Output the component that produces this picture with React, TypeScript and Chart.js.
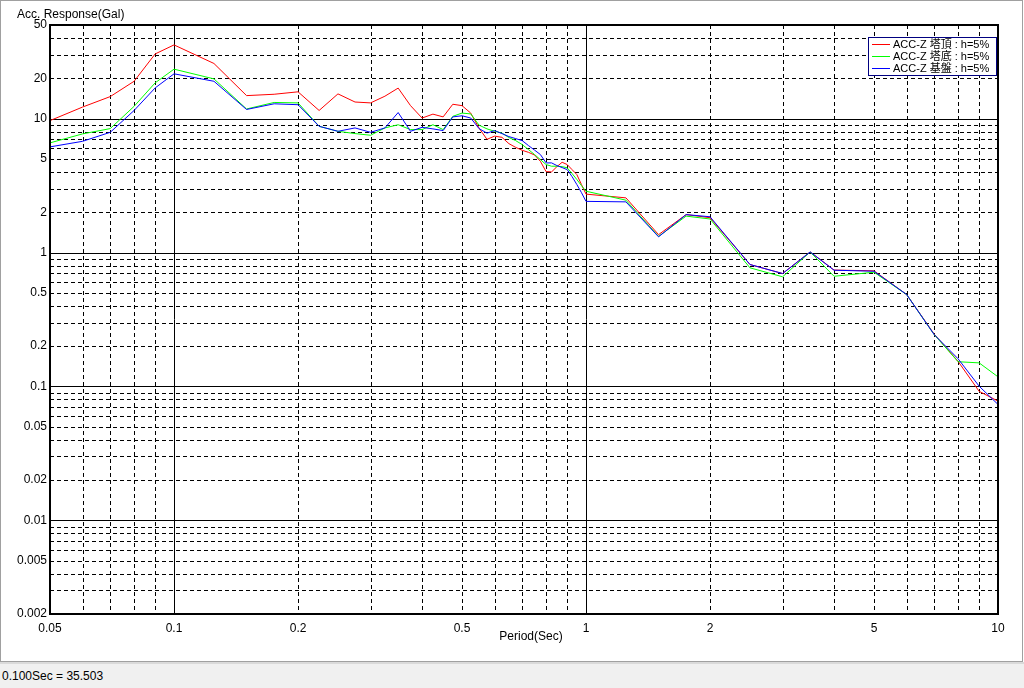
import React, { useEffect, useRef } from 'react';
import { Chart, registerables } from 'chart.js';

Chart.register(...registerables);

// ---- data ----
const periods = [
  0.05, 0.06, 0.07, 0.08, 0.09, 0.1, 0.125, 0.15, 0.175, 0.2,
  0.225, 0.25, 0.275, 0.3, 0.325, 0.35, 0.375, 0.4, 0.425, 0.45, 0.475, 0.5,
  0.525, 0.55, 0.575, 0.6, 0.625, 0.65, 0.675, 0.7, 0.725, 0.75, 0.775, 0.8, 0.825, 0.85, 0.875, 0.9, 0.925, 0.95, 0.975, 1.0,
  1.25, 1.5, 1.75, 2.0,
  2.5, 3.0, 3.5, 4.0,
  5.0, 6.0, 7.0, 8.0, 9.0, 10.0,
];

const towerTop = [
  9.66, 12.2, 14.6, 19.0, 30.4, 35.5, 25.8, 14.85, 15.2, 15.85,
  11.5, 15.3, 13.3, 13.1, 14.7, 16.9, 12.5, 10.1, 10.8, 10.3, 12.8, 12.5,
  11.0, 8.5, 7.0, 7.4, 7.25, 6.5, 6.1, 5.8, 5.6, 5.35, 4.8, 4.02, 4.0, 4.38, 4.72, 4.54, 4.16, 3.82, 3.22, 2.73,
  2.56, 1.36, 1.92, 1.82,
  0.814, 0.697, 1.01, 0.74,
  0.73, 0.486, 0.246, 0.154, 0.092, 0.0777,
];

const towerBase = [
  6.59, 7.69, 8.42, 12.35, 18.5, 23.4, 19.8, 11.8, 13.2, 13.1,
  8.76, 8.04, 7.73, 7.51, 8.52, 9.0, 8.28, 8.28, 9.0, 8.28, 10.4, 11.0,
  10.84, 8.94, 8.38, 8.04, 7.8, 7.22, 6.85, 6.4, 5.87, 5.39, 4.94, 4.54, 4.41, 4.41, 4.38, 4.29, 3.89, 3.51, 3.16, 2.87,
  2.46, 1.32, 1.87, 1.78,
  0.769, 0.659, 1.01, 0.665,
  0.713, 0.486, 0.244, 0.153, 0.15, 0.118,
];

const bedrock = [
  6.15, 6.77, 7.9, 11.5, 16.95, 21.6, 19.0, 11.7, 12.9, 12.7,
  8.76, 8.04, 8.52, 7.9, 8.52, 11.1, 8.04, 8.61, 8.38, 8.14, 10.3, 10.5,
  10.1, 8.42, 7.79, 8.14, 7.73, 7.34, 7.09, 6.85, 6.29, 5.82, 5.39, 4.67, 4.67, 4.46, 4.31, 4.16, 3.69, 3.22, 2.8, 2.41,
  2.39, 1.31, 1.92, 1.85,
  0.814, 0.697, 1.01, 0.738,
  0.725, 0.486, 0.244, 0.161, 0.1005, 0.0734,
];

const seriesLabels = ['ACC-Z 塔頂 : h=5%', 'ACC-Z 塔底 : h=5%', 'ACC-Z 基盤 : h=5%'];
const seriesColors = ['#ff0000', '#00ff00', '#0000ff'];

const xTickLabels = [0.05, 0.1, 0.2, 0.5, 1, 2, 5, 10];
const yTickLabels = [50, 20, 10, 5, 2, 1, 0.5, 0.2, 0.1, 0.05, 0.02, 0.01, 0.005, 0.002];
const gridMantissas = [1, 2, 3, 4, 5, 6, 7, 8, 9];

const xMin = 0.05;
const xMax = 10;
const yMin = 0.002;
const yMax = 50;

const yTitle = 'Acc. Response(Gal)';
const xTitle = 'Period(Sec)';
const statusText = '0.100Sec = 35.503';

const FONT = "'Liberation Sans', Arial, sans-serif";
const LEGEND_FONT = "11px 'Liberation Sans', 'Noto Sans CJK JP', sans-serif";

function gridValues(min: number, max: number): { v: number; major: boolean }[] {
  const out: { v: number; major: boolean }[] = [];
  for (let e = -4; e <= 2; e++) {
    for (const m of gridMantissas) {
      const v = parseFloat((m * Math.pow(10, e)).toPrecision(6));
      if (v > min * 1.0001 && v < max * 0.9999) out.push({ v, major: m === 1 });
    }
  }
  return out;
}

const decorPlugin = {
  id: 'decor',
  beforeDatasetsDraw(chart: any) {
    const { ctx, chartArea, scales } = chart;
    const { left, right, top, bottom } = chartArea;
    ctx.save();
    ctx.strokeStyle = '#000';
    ctx.lineWidth = 1;
    for (const g of gridValues(xMin, xMax)) {
      const px = Math.round(scales.x.getPixelForValue(g.v)) + 0.5;
      ctx.setLineDash(g.major ? [] : [4, 3]);
      ctx.beginPath();
      ctx.moveTo(px, top);
      ctx.lineTo(px, bottom);
      ctx.stroke();
    }
    for (const g of gridValues(yMin, yMax)) {
      const py = Math.round(scales.y.getPixelForValue(g.v)) + 0.5;
      ctx.setLineDash(g.major ? [] : [4, 3]);
      ctx.beginPath();
      ctx.moveTo(left, py);
      ctx.lineTo(right, py);
      ctx.stroke();
    }
    ctx.restore();
  },
  afterDatasetsDraw(chart: any) {
    const { ctx, chartArea } = chart;
    const { left, right, top, bottom } = chartArea;
    ctx.save();
    // frame
    ctx.setLineDash([]);
    ctx.strokeStyle = '#000';
    ctx.lineWidth = 2;
    ctx.strokeRect(left, top, right - left, bottom - top);

    // legend
    const lx = 868.5;
    const ly = 37.5;
    const lw = 128;
    const lh = 38;
    ctx.fillStyle = '#fff';
    ctx.fillRect(lx, ly, lw, lh);
    ctx.lineWidth = 1;
    ctx.strokeStyle = '#000080';
    ctx.strokeRect(lx, ly, lw, lh);
    ctx.font = LEGEND_FONT;
    ctx.textBaseline = 'middle';
    ctx.textAlign = 'left';
    chart.data.datasets.forEach((ds: any, i: number) => {
      const ry = 44.5 + i * 12;
      ctx.strokeStyle = ds.borderColor;
      ctx.beginPath();
      ctx.moveTo(872, ry);
      ctx.lineTo(890, ry);
      ctx.stroke();
      ctx.fillStyle = '#000';
      ctx.fillText(ds.label, 893, ry);
    });

    // titles
    ctx.font = `12px ${FONT}`;
    ctx.fillStyle = '#000';
    ctx.textBaseline = 'middle';
    ctx.textAlign = 'left';
    ctx.fillText(yTitle, 17, 15);
    ctx.textAlign = 'center';
    ctx.fillText(xTitle, 531, 637);
    ctx.restore();
  },
};

export default function App() {
  const ref = useRef<HTMLCanvasElement | null>(null);

  useEffect(() => {
    document.body.style.margin = '0';
    const canvas = ref.current;
    if (!canvas) return;
    const datasets = [towerTop, towerBase, bedrock].map((vals, i) => ({
      label: seriesLabels[i],
      data: periods.map((p, k) => ({ x: p, y: vals[k] })),
      borderColor: seriesColors[i],
      backgroundColor: seriesColors[i],
      borderWidth: 1,
      pointRadius: 0,
      tension: 0,
      fill: false,
      order: 3 - i,
    }));

    const chart = new Chart(canvas, {
      type: 'line',
      data: { datasets },
      options: {
        animation: false,
        responsive: false,
        maintainAspectRatio: false,
        events: [],
        layout: { padding: { left: 0, right: 26, top: 25, bottom: 0 } },
        plugins: {
          legend: { display: false },
          tooltip: { enabled: false },
          title: { display: false },
        },
        scales: {
          x: {
            type: 'logarithmic',
            min: xMin,
            max: xMax,
            grid: { display: false, drawTicks: false },
            border: { display: false },
            afterBuildTicks: (s: any) => {
              s.ticks = xTickLabels.map((v) => ({ value: v }));
            },
            afterFit: (s: any) => {
              s.height = 48;
            },
            ticks: {
              autoSkip: false,
              maxRotation: 0,
              minRotation: 0,
              padding: 7,
              color: '#000',
              font: { family: FONT, size: 12 },
              callback: (v: any) => String(Number(v)),
            },
          },
          y: {
            type: 'logarithmic',
            min: yMin,
            max: yMax,
            grid: { display: false, drawTicks: false },
            border: { display: false },
            afterBuildTicks: (s: any) => {
              s.ticks = yTickLabels.map((v) => ({ value: v }));
            },
            afterFit: (s: any) => {
              s.width = 50;
            },
            ticks: {
              autoSkip: false,
              padding: 3,
              color: '#000',
              font: { family: FONT, size: 12 },
              callback: (v: any) => String(Number(v)),
            },
          },
        },
      } as any,
      plugins: [decorPlugin],
    });
    return () => chart.destroy();
  }, []);

  return (
    <div style={{ position: 'relative', width: 1024, height: 688, background: '#fff', overflow: 'hidden' }}>
      <div
        style={{
          position: 'absolute',
          left: 0,
          top: 0,
          width: 1023,
          height: 662,
          boxSizing: 'border-box',
          border: '1px solid #a0a0a0',
        }}
      />
      <canvas
        ref={ref}
        width={1024}
        height={662}
        style={{ position: 'absolute', left: 0, top: 0, width: 1024, height: 662 }}
      />
      <div
        style={{
          position: 'absolute',
          left: 0,
          top: 662,
          width: 1024,
          height: 26,
          boxSizing: 'border-box',
          background: '#f0f0f0',
          borderTop: '2px solid #dadada',
          fontFamily: FONT,
          fontSize: 12,
          lineHeight: '25px',
          paddingLeft: 2,
          color: '#000',
        }}
      >
        {statusText}
      </div>
    </div>
  );
}
